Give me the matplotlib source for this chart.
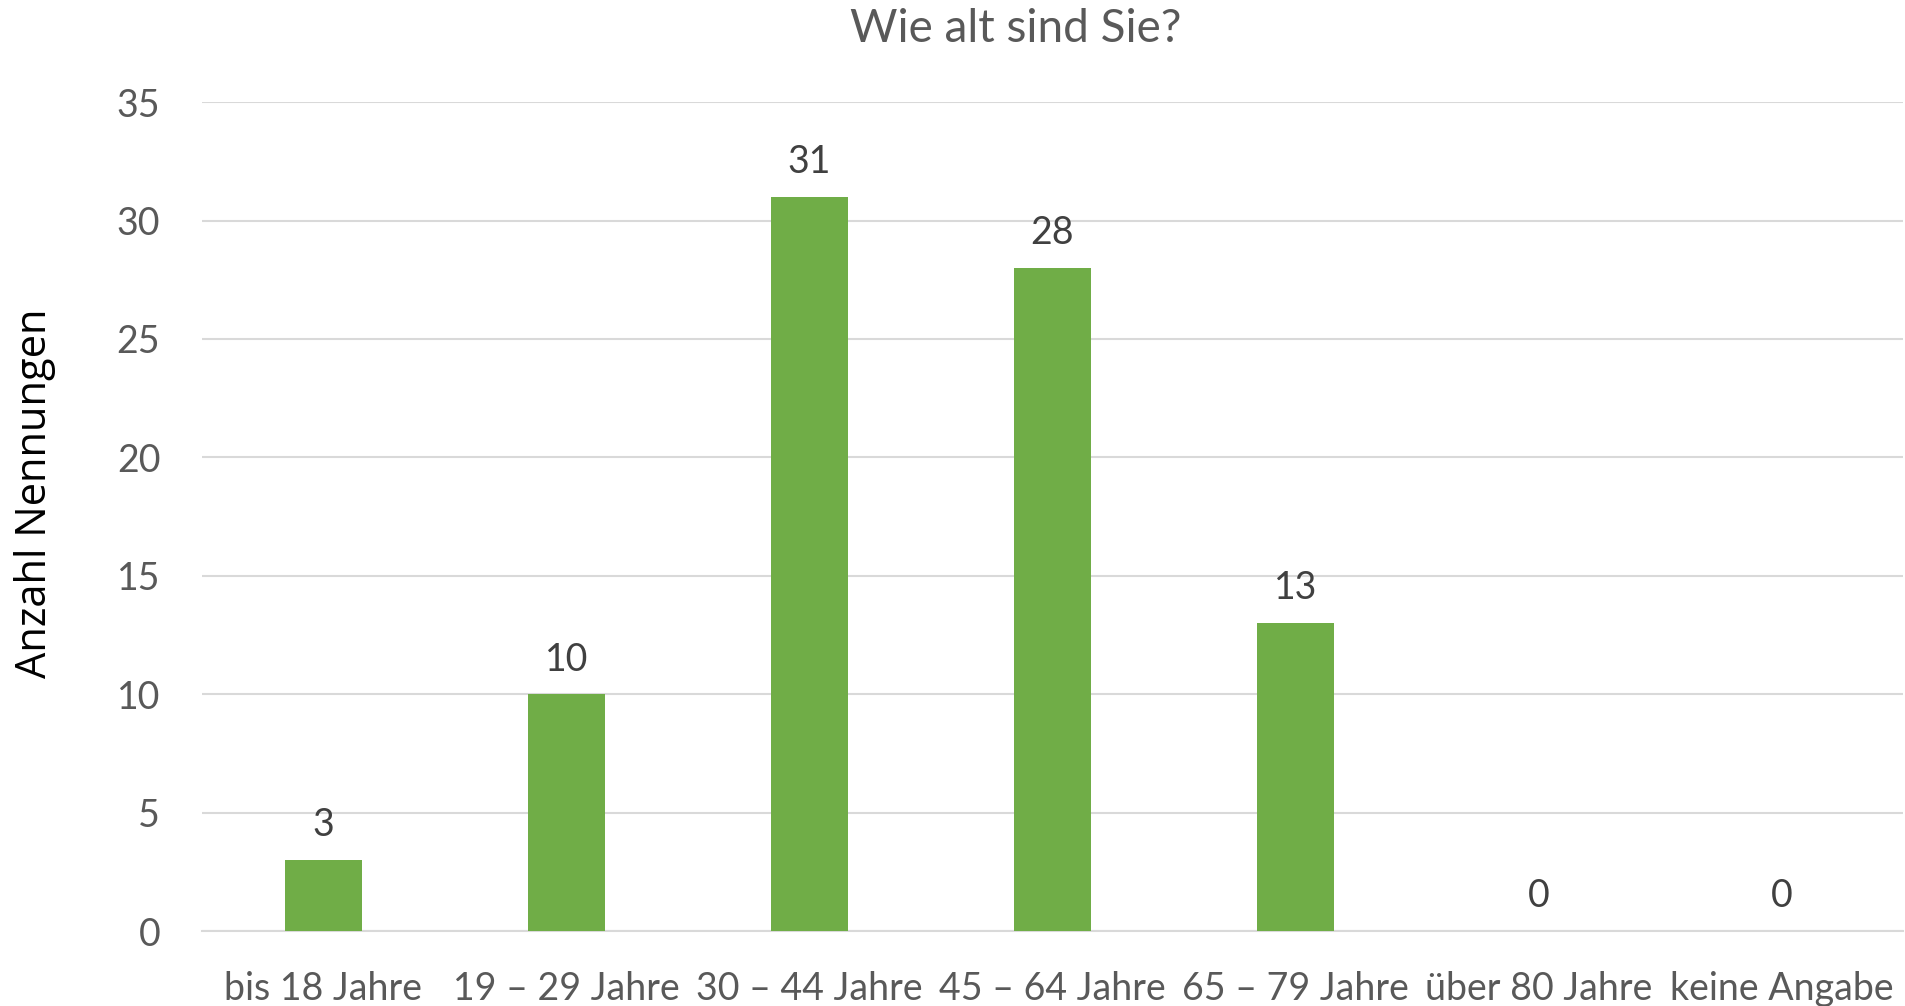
import numpy as np
import matplotlib
matplotlib.use('Agg')
import matplotlib.pyplot as plt

plt.rcParams['font.family'] = ['Lato', 'DejaVu Sans']

# data
kategorien = ['bis 18 Jahre', '19 – 29 Jahre', '30 – 44 Jahre', '45 – 64 Jahre',
              '65 – 79 Jahre', 'über 80 Jahre', 'keine Angabe']
nennungen = [3, 10, 31, 28, 13, 0, 0]
y_ticks = [0, 5, 10, 15, 20, 25, 30, 35]

fig = plt.figure(figsize=(19.05, 10.06), dpi=100)
ax = fig.add_axes([0.106, 0.0745, 0.893, 0.824])

x = np.arange(len(kategorien))
ax.bar(x, nennungen, width=0.315, color='#70AD47', zorder=3)

for xi, v in zip(x, nennungen):
    ax.annotate(str(v), (xi, v), xytext=(0, 12), textcoords='offset points',
                ha='center', va='bottom', fontsize=27, color='#404040')

ax.set_xlim(-0.5, len(kategorien) - 0.5)
ax.set_ylim(0, 35)
ax.set_yticks(y_ticks)
ax.set_xticks(x)
ax.set_xticklabels(kategorien)
ax.tick_params(axis='both', length=0, labelsize=27, labelcolor='#595959')
ax.tick_params(axis='x', pad=29)
ax.tick_params(axis='y', pad=30)

ax.grid(axis='y', color='#D9D9D9', linewidth=1.5, zorder=0)
for s in ['top', 'right', 'left']:
    ax.spines[s].set_visible(False)
ax.spines['bottom'].set_color('#D9D9D9')
ax.spines['bottom'].set_linewidth(1.5)

ax.set_ylabel('Anzahl Nennungen', fontsize=30, color='black',
              family=['Open Sans', 'DejaVu Sans'])
ax.yaxis.set_label_coords(-0.086, 0.528)
fig.text(0.533, 0.971, 'Wie alt sind Sie?', ha='center', va='center',
         fontsize=33, color='#595959')

fig.savefig('out.png', dpi=100)
